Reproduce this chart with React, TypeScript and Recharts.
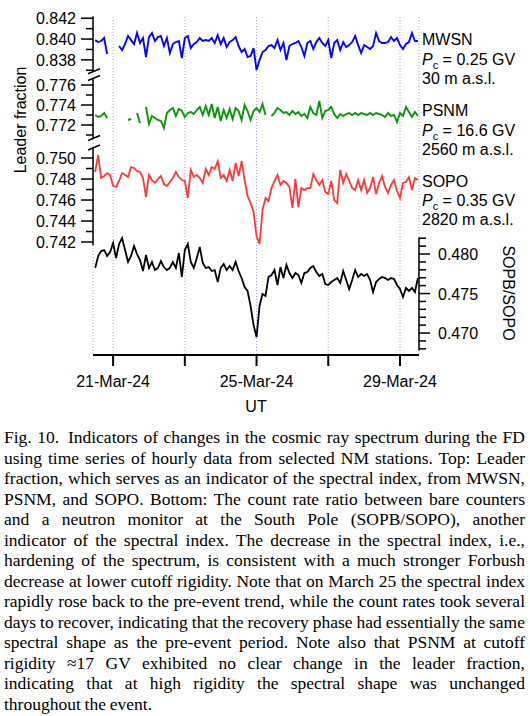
import React from 'react';
import { LineChart, Line, XAxis, YAxis, CartesianGrid, ReferenceLine, ReferenceDot } from 'recharts';

const FONT = '"Liberation Sans", Arial, Helvetica, sans-serif';
const SERIF = '"Liberation Serif", "Times New Roman", Times, serif';

// time axis: days of March 2024, 2-hour samples starting 20-Mar 12:00 UT
const START_DAY = 20.5;
const STEP_DAYS = 2 / 24;
const X_DOMAIN: [number, number] = [20.44, 29.53];
const DAY_TICKS = [21, 23, 25, 27, 29];
const DAY_LABELS = ['21-Mar-24', '', '25-Mar-24', '', '29-Mar-24'];

const MWSN: (number | null)[] = [
  0.83990, 0.83971, 0.83981, 0.84010, 0.83856, null, null, null, 0.83933, 0.83894,
  0.83952, 0.84029, 0.83990, 0.83952, 0.84058, 0.83962, 0.84010, 0.83827, 0.84019, 0.84058,
  0.83981, 0.84019, 0.84029, 0.83933, 0.84010, 0.83865, 0.83952, 0.83971, 0.83981, 0.83817,
  0.84010, 0.84029, 0.83913, 0.83952, 0.83971, 0.84010, 0.83981, 0.83990, 0.83981, 0.84010,
  0.83962, 0.84038, 0.83952, 0.84010, 0.83923, 0.83971, 0.83990, 0.84019, 0.83933, 0.83875,
  0.83904, 0.83827, 0.83837, 0.83913, 0.83702, 0.83798, 0.83875, 0.83894, 0.83933, 0.83942,
  0.83913, 0.83990, 0.83894, 0.83962, 0.83798, 0.83933, 0.83952, 0.83962, 0.83981, 0.83923,
  0.83837, 0.83962, 0.83981, 0.83904, 0.83971, 0.84010, 0.83962, 0.83933, 0.83990, 0.83817,
  0.83962, 0.83990, 0.83894, 0.83971, 0.83923, 0.83942, 0.83971, 0.84029, 0.83942, 0.83865,
  0.83942, 0.83923, 0.83904, 0.83933, 0.84058, 0.83981, 0.83962, 0.83962, 0.83971, 0.84019,
  0.83981, 0.84010, 0.83942, 0.83904, 0.83952, 0.83971, 0.84058, 0.83981, 0.83981,
];

const PSNM: (number | null)[] = [
  0.7730, 0.7728, 0.7729, 0.7732, 0.7727, null, null, null, null, null,
  null, 0.7725, 0.7726, null, 0.7732, 0.7722, null, 0.7738, 0.7721, 0.7729,
  0.7727, 0.7725, 0.7724, 0.7717, 0.7732, 0.7735, 0.7737, 0.7729, 0.7736, 0.7734,
  0.7728, 0.7732, 0.7733, 0.7731, 0.7735, 0.7738, 0.7730, 0.7739, 0.7730, 0.7741,
  0.7727, 0.7738, 0.7724, 0.7735, 0.7727, 0.7736, 0.7726, 0.7737, 0.7734, 0.7725,
  0.7740, 0.7734, 0.7725, 0.7734, 0.7737, 0.7733, 0.7741, 0.7730, null, 0.7729,
  0.7732, 0.7737, 0.7735, 0.7732, 0.7733, 0.7730, 0.7734, 0.7731, 0.7733, 0.7729,
  0.7731, 0.7727, 0.7738, 0.7732, 0.7730, 0.7744, 0.7727, 0.7734, 0.7735, 0.7738,
  0.7731, 0.7727, 0.7731, 0.7729, 0.7731, 0.7732, 0.7730, 0.7732, 0.7730, 0.7732,
  0.7731, 0.7730, 0.7732, 0.7730, 0.7732, 0.7731, 0.7730, 0.7728, 0.7732, 0.7729,
  0.7730, 0.7723, 0.7732, 0.7729, 0.7738, 0.7733, 0.7728, 0.7733, 0.7729,
];

const SOPO: (number | null)[] = [
  0.74867, 0.75029, 0.74810, 0.74829, 0.74857, 0.74838, 0.74733, 0.74724, 0.74781, 0.74857,
  0.74838, 0.74819, 0.74914, 0.74905, 0.74876, 0.74867, 0.74810, 0.74629, 0.74838, 0.74790,
  0.74762, 0.74800, 0.74829, 0.74752, 0.74733, 0.74771, 0.74810, 0.74867, 0.74819, 0.74790,
  0.74781, 0.74619, 0.74886, 0.74819, 0.74838, 0.74810, 0.74762, 0.74895, 0.74838, 0.74914,
  0.74895, 0.74971, 0.74810, 0.74838, 0.74781, 0.74886, 0.74781, 0.74952, 0.74829, 0.74971,
  0.74790, 0.74638, 0.74571, 0.74486, 0.74257, 0.74181, 0.74505, 0.74619, 0.74590, 0.74714,
  0.74781, 0.74838, 0.74743, 0.74781, 0.74762, 0.74724, 0.74524, 0.74800, 0.74533, 0.74714,
  0.74695, 0.74714, 0.74714, 0.74848, 0.74790, 0.74743, 0.74790, 0.74676, 0.74657, 0.74781,
  0.74600, 0.74571, 0.74886, 0.74762, 0.74848, 0.74781, 0.74714, 0.74695, 0.74790, 0.74695,
  0.74790, 0.74667, 0.74714, 0.74819, 0.74657, 0.74762, 0.74829, 0.74724, 0.74667, 0.74743,
  0.74790, 0.74686, 0.74619, 0.74762, 0.74771, 0.74819, 0.74695, 0.74810, 0.74790,
];

const SOPB_SOPO: (number | null)[] = [
  0.47823, 0.47975, 0.48038, 0.48051, 0.47975, 0.48025, 0.48139, 0.47949, 0.48127, 0.48203,
  0.48051, 0.47899, 0.47975, 0.48101, 0.48000, 0.47924, 0.47785, 0.47987, 0.47823, 0.47899,
  0.47797, 0.47823, 0.47911, 0.47835, 0.47797, 0.47823, 0.47899, 0.47823, 0.48013, 0.47709,
  0.48051, 0.48127, 0.47899, 0.47823, 0.47949, 0.48089, 0.47886, 0.47823, 0.47835, 0.47785,
  0.47797, 0.47646, 0.47823, 0.47873, 0.47797, 0.47848, 0.47797, 0.47899, 0.47785, 0.47696,
  0.47582, 0.47532, 0.47342, 0.47101, 0.46949, 0.47342, 0.47494, 0.47468, 0.47709, 0.47734,
  0.47797, 0.47608, 0.47835, 0.47696, 0.47861, 0.47759, 0.47696, 0.47759, 0.47734, 0.47633,
  0.47759, 0.47772, 0.47823, 0.47848, 0.47772, 0.47722, 0.47747, 0.47620, 0.47608, 0.47646,
  0.47671, 0.47696, 0.47633, 0.47785, 0.47671, 0.47557, 0.47671, 0.47797, 0.47709, 0.47747,
  0.47722, 0.47747, 0.47671, 0.47519, 0.47646, 0.47684, 0.47709, 0.47696, 0.47671, 0.47696,
  0.47684, 0.47608, 0.47557, 0.47456, 0.47570, 0.47532, 0.47570, 0.47519, 0.47696,
];

// axis scales (broken left axis)
const MWSN_DOMAIN: [number, number] = [0.80962, 0.84212];
const PSNM_DOMAIN: [number, number] = [0.7490, 0.7828];
const SOPO_DOMAIN: [number, number] = [0.73124, 0.76343];
const RATIO_DOMAIN: [number, number] = [0.46722, 0.51];

const MWSN_TICKS = [0.837, 0.838, 0.839, 0.84, 0.841, 0.842];
const PSNM_TICKS = [0.771, 0.772, 0.773, 0.774, 0.775, 0.776];
const SOPO_TICKS = [0.742, 0.743, 0.744, 0.745, 0.746, 0.747, 0.748, 0.749, 0.75];
const RATIO_TICKS = [0.468, 0.469, 0.47, 0.471, 0.472, 0.473, 0.474, 0.475, 0.476, 0.477, 0.478, 0.479, 0.48, 0.481, 0.482];

// axis segment extents
const MWSN_AXIS = [0.8422, 0.8369];
const PSNM_AXIS = [0.7767, 0.7707];
const SOPO_AXIS = [0.751, 0.7417];
const RATIO_AXIS = [0.4821, 0.4678];

const STATIONS = ['MWSN', 'PSNM', 'SOPO'];
const CUTOFFS = ['0.25', '16.6', '0.35'];
const ALTITUDES = ['30', '2560', '2820'];
const LABEL_LEVELS = [0.83942, 0.7729, 0.74724];
const SERIES_IDS = ['mwsn', 'psnm', 'sopo'];

const CAPTION_LINES = [
  'Fig. 10.\u2002Indicators of changes in the cosmic ray spectrum during the FD',
  'using time series of hourly data from selected NM stations. Top: Leader',
  'fraction, which serves as an indicator of the spectral index, from MWSN,',
  'PSNM, and SOPO. Bottom: The count rate ratio between bare counters',
  'and a neutron monitor at the South Pole (SOPB/SOPO), another',
  'indicator of the spectral index. The decrease in the spectral index, i.e.,',
  'hardening of the spectrum, is consistent with a much stronger Forbush',
  'decrease at lower cutoff rigidity. Note that on March 25 the spectral index',
  'rapidly rose back to the pre-event trend, while the count rates took several',
  'days to recover, indicating that the recovery phase had essentially the same',
  'spectral shape as the pre-event period. Note also that PSNM at cutoff',
  'rigidity \u224817 GV exhibited no clear change in the leader fraction,',
  'indicating that at high rigidity the spectral shape was unchanged',
  'throughout the event.',
];

const rows = MWSN.map((_, i) => ({
  t: START_DAY + i * STEP_DAYS,
  mwsn: MWSN[i],
  psnm: PSNM[i],
  sopo: SOPO[i],
  ratio: SOPB_SOPO[i],
}));

const LeftTick = (props: any) => {
  const { x, y, payload } = props;
  const v = payload.value as number;
  const major = Math.round(v * 1000) % 2 === 0;
  return (
    <g>
      <line x1={x - (major ? 12 : 7)} x2={x} y1={y} y2={y} stroke="#000" strokeWidth={1.5} />
      {major && (
        <text x={x - 17} y={y} dy="0.38em" textAnchor="end" fontSize={16} fontFamily={FONT} fill="#000">
          {v.toFixed(3)}
        </text>
      )}
    </g>
  );
};

const RightTick = (props: any) => {
  const { x, y, payload } = props;
  const v = payload.value as number;
  const major = Math.round(v * 1000) % 5 === 0;
  return (
    <g>
      <line x1={x} x2={x + (major ? 11 : 7)} y1={y} y2={y} stroke="#000" strokeWidth={1.5} />
      {major && (
        <text x={x + 19} y={y} dy="0.38em" textAnchor="start" fontSize={16} fontFamily={FONT} fill="#000">
          {v.toFixed(3)}
        </text>
      )}
    </g>
  );
};

const BreakMark = (props: any) => {
  const { cx, cy } = props;
  return <path d={`M${cx - 5},${cy + 2.5} L${cx + 7},${cy - 2.5}`} stroke="#000" strokeWidth={1.5} fill="none" />;
};

const makeStationLabel = (k: number) => (props: any) => {
  const { cx, cy } = props;
  return (
    <g fontFamily={FONT} fontSize={16} fill="#000">
      <text x={cx + 3} y={cy}>{STATIONS[k]}</text>
      <text x={cx + 3} y={cy + 19.5}>
        <tspan fontStyle="italic">P</tspan>
        <tspan fontSize={11} dy={4}>c</tspan>
        <tspan dy={-4}>{` = ${CUTOFFS[k]} GV`}</tspan>
      </text>
      <text x={cx + 3} y={cy + 38.5}>{`${ALTITUDES[k]} m a.s.l.`}</text>
    </g>
  );
};

const AXIS_W = 0.01;

const leftAxisProps = {
  width: AXIS_W,
  tickLine: false,
  axisLine: false,
  tickSize: 0,
  tickMargin: 0,
  interval: 0 as const,
  allowDataOverflow: true,
  type: 'number' as const,
  tick: (p: any) => <LeftTick {...p} />,
};

export default function App() {
  return (
    <div style={{ position: 'absolute', left: 0, top: 0, width: 530, height: 716, background: '#fff' }}>
      <div style={{ position: 'absolute', left: 0, top: 0 }}>
        <LineChart width={530} height={420} data={rows} margin={{ top: 17, right: 111, bottom: 5, left: 93 }}>
          <CartesianGrid yAxisId="mwsn" horizontal={false} stroke="#a3a3ec" strokeDasharray="1 2" strokeWidth={1} />
          <XAxis
            dataKey="t"
            type="number"
            domain={X_DOMAIN}
            allowDataOverflow
            ticks={DAY_TICKS}
            interval={0}
            tickFormatter={(v: number) => DAY_LABELS[DAY_TICKS.indexOf(v)]}
            height={60}
            tickSize={11}
            tickMargin={10}
            axisLine={{ stroke: '#000', strokeWidth: 2 }}
            tickLine={{ stroke: '#000', strokeWidth: 2 }}
            tick={{ fill: '#000', fontSize: 16, fontFamily: FONT }}
            label={{ value: 'UT', position: 'insideBottom', offset: 3, fill: '#000', fontSize: 16, fontFamily: FONT }}
          />
          <YAxis yAxisId="mwsn" domain={MWSN_DOMAIN} ticks={MWSN_TICKS} {...leftAxisProps} />
          <YAxis yAxisId="psnm" domain={PSNM_DOMAIN} ticks={PSNM_TICKS} {...leftAxisProps} />
          <YAxis yAxisId="sopo" domain={SOPO_DOMAIN} ticks={SOPO_TICKS} {...leftAxisProps} />
          <YAxis
            yAxisId="ratio"
            orientation="right"
            type="number"
            domain={RATIO_DOMAIN}
            allowDataOverflow
            ticks={RATIO_TICKS}
            interval={0}
            width={AXIS_W}
            tickLine={false}
            axisLine={false}
            tickSize={0}
            tickMargin={0}
            tick={(p: any) => <RightTick {...p} />}
          />

          <ReferenceLine yAxisId="mwsn" ifOverflow="visible" stroke="#000" strokeWidth={1.5}
            segment={[{ x: X_DOMAIN[0], y: MWSN_AXIS[0] }, { x: X_DOMAIN[0], y: MWSN_AXIS[1] }]} />
          <ReferenceLine yAxisId="psnm" ifOverflow="visible" stroke="#000" strokeWidth={1.5}
            segment={[{ x: X_DOMAIN[0], y: PSNM_AXIS[0] }, { x: X_DOMAIN[0], y: PSNM_AXIS[1] }]} />
          <ReferenceLine yAxisId="sopo" ifOverflow="visible" stroke="#000" strokeWidth={1.5}
            segment={[{ x: X_DOMAIN[0], y: SOPO_AXIS[0] }, { x: X_DOMAIN[0], y: SOPO_AXIS[1] }]} />
          <ReferenceLine yAxisId="ratio" ifOverflow="visible" stroke="#000" strokeWidth={1.5}
            segment={[{ x: X_DOMAIN[1], y: RATIO_AXIS[0] }, { x: X_DOMAIN[1], y: RATIO_AXIS[1] }]} />

          <ReferenceDot yAxisId="mwsn" x={X_DOMAIN[0]} y={MWSN_AXIS[1]} ifOverflow="visible" shape={BreakMark} />
          <ReferenceDot yAxisId="psnm" x={X_DOMAIN[0]} y={PSNM_AXIS[0]} ifOverflow="visible" shape={BreakMark} />
          <ReferenceDot yAxisId="psnm" x={X_DOMAIN[0]} y={PSNM_AXIS[1]} ifOverflow="visible" shape={BreakMark} />
          <ReferenceDot yAxisId="sopo" x={X_DOMAIN[0]} y={SOPO_AXIS[0]} ifOverflow="visible" shape={BreakMark} />

          {SERIES_IDS.map((id, k) => (
            <ReferenceDot key={id + '-lbl'} yAxisId={id} x={X_DOMAIN[1]} y={LABEL_LEVELS[k]} ifOverflow="visible"
              shape={makeStationLabel(k)} />
          ))}

          <Line yAxisId="mwsn" dataKey="mwsn" stroke="#0505ff" strokeWidth={1.9} dot={false} isAnimationActive={false} />
          <Line yAxisId="psnm" dataKey="psnm" stroke="#0a960a" strokeWidth={1.9} dot={false} isAnimationActive={false} />
          <Line yAxisId="sopo" dataKey="sopo" stroke="#ff3838" strokeWidth={1.8} dot={false} isAnimationActive={false} />
          <Line yAxisId="ratio" dataKey="ratio" stroke="#000" strokeWidth={1.8} dot={false} isAnimationActive={false} />
        </LineChart>
        <svg width={530} height={420} style={{ position: 'absolute', left: 0, top: 0, pointerEvents: 'none' }}>
          <text transform="translate(26,120) rotate(-90)" textAnchor="middle" fontSize={16} fontFamily={FONT} fill="#000">
            Leader fraction
          </text>
          <text transform="translate(503,293) rotate(90)" textAnchor="middle" fontSize={16} fontFamily={FONT} fill="#000">
            SOPB/SOPO
          </text>
        </svg>
      </div>
      <div style={{
        position: 'absolute', left: 4, top: 427, width: 521, fontFamily: SERIF, fontSize: 17.5,
        lineHeight: '20.5px', color: '#000', wordSpacing: '-0.6px',
      }}>
        {CAPTION_LINES.map((line, i) => (
          <div key={i} style={{
            textAlign: 'justify',
            textAlignLast: i === CAPTION_LINES.length - 1 ? 'left' : 'justify',
            whiteSpace: 'nowrap',
          }}>{line}</div>
        ))}
      </div>
    </div>
  );
}
